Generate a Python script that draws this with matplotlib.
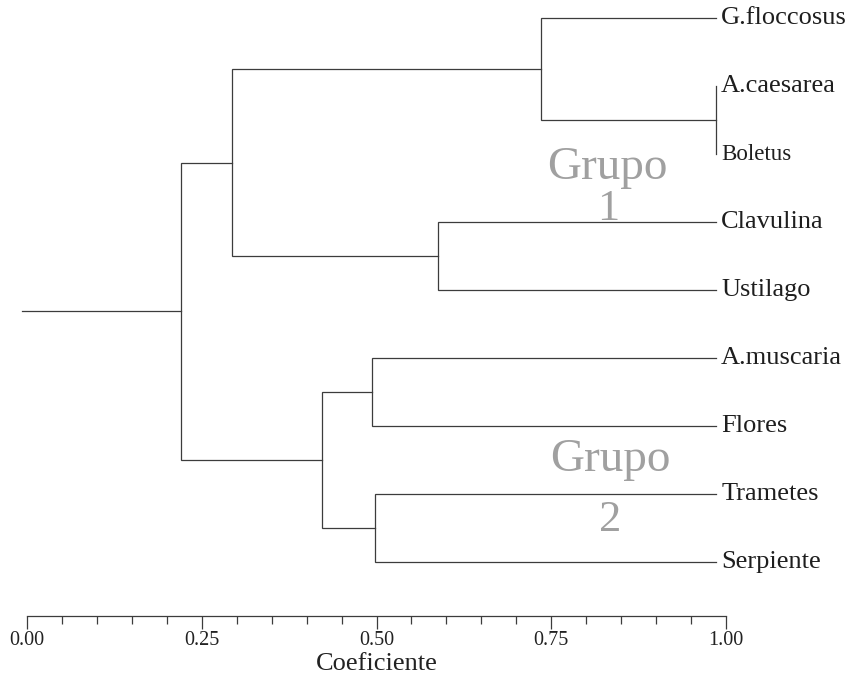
import matplotlib
matplotlib.use("Agg")
import matplotlib.pyplot as plt
from matplotlib.ticker import MultipleLocator

# leaves, top to bottom
leaves = ['G.floccosus', 'A.caesarea', 'Boletus', 'Clavulina', 'Ustilago',
          'A.muscaria', 'Flores', 'Trametes', 'Serpiente']
leaf_level = 0.985

# merges: (child a, child b, coefficient); new cluster ids start at len(leaves)
merge_a = [1, 0, 3, 10, 5, 7, 13, 12]
merge_b = [2, 9, 4, 11, 6, 8, 14, 15]
merge_h = [0.985, 0.735, 0.588, 0.293, 0.494, 0.498, 0.422, 0.220]

tick_major = [0.00, 0.25, 0.50, 0.75, 1.00]
tick_labels = ['0.00', '0.25', '0.50', '0.75', '1.00']

groups = [('Grupo', '1'), ('Grupo', '2')]
group_x = [0.831, 0.834]
group_y = [2.2, 6.5]
number_y = [2.8, 7.38]

line_c = '#3c3c3c'
font = 'Liberation Serif'

fig = plt.figure(figsize=(8.65, 6.74), dpi=100)
ax = fig.add_axes([27/865, 58/674, 699/865, 616/674])

# node positions
pos_x = {i: leaf_level for i in range(len(leaves))}
pos_y = {i: float(i) for i in range(len(leaves))}
n = len(leaves)
for k in range(len(merge_a)):
    a, b, h = merge_a[k], merge_b[k], merge_h[k]
    ax.plot([pos_x[a], h, h, pos_x[b]], [pos_y[a], pos_y[a], pos_y[b], pos_y[b]],
            color=line_c, lw=0.9, solid_joinstyle='miter', clip_on=False)
    pos_x[n + k] = h
    pos_y[n + k] = (pos_y[a] + pos_y[b]) / 2

# root stub
root = n + len(merge_a) - 1
ax.plot([-0.007, pos_x[root]], [pos_y[root], pos_y[root]], color=line_c, lw=0.9, clip_on=False)

for i, name in enumerate(leaves):
    fs = 16.5 if name == 'Boletus' else 19
    ax.text(leaf_level + 0.008, i, name, fontsize=fs, family=font, color='#1e1e1e',
            va='center', ha='left', clip_on=False)

for (g, num), gx, gy, ny in zip(groups, group_x, group_y, number_y):
    ax.text(gx, gy, g, fontsize=34, family=font, color='#a0a0a0', ha='center', va='center')
    ax.text(gx, ny, num, fontsize=32, family=font, color='#a0a0a0', ha='center', va='center')

ax.set_xlim(0, 1)
ax.set_ylim(8.79, -0.265)
for s in ['top', 'left', 'right']:
    ax.spines[s].set_visible(False)
ax.spines['bottom'].set_color(line_c)
ax.spines['bottom'].set_linewidth(0.9)
ax.set_yticks([])
ax.set_xticks(tick_major)
ax.set_xticklabels(tick_labels, family=font, fontsize=14.5, color='#222222')
ax.xaxis.set_minor_locator(MultipleLocator(0.05))
ax.tick_params(axis='x', which='major', direction='out', length=9, width=0.9, color=line_c, pad=2)
ax.tick_params(axis='x', which='minor', direction='out', length=5.5, width=0.9, color=line_c)
ax.set_xlabel('Coeficiente', family=font, fontsize=19, color='#222222', labelpad=2)

fig.savefig('out.png', dpi=100, facecolor='white')
